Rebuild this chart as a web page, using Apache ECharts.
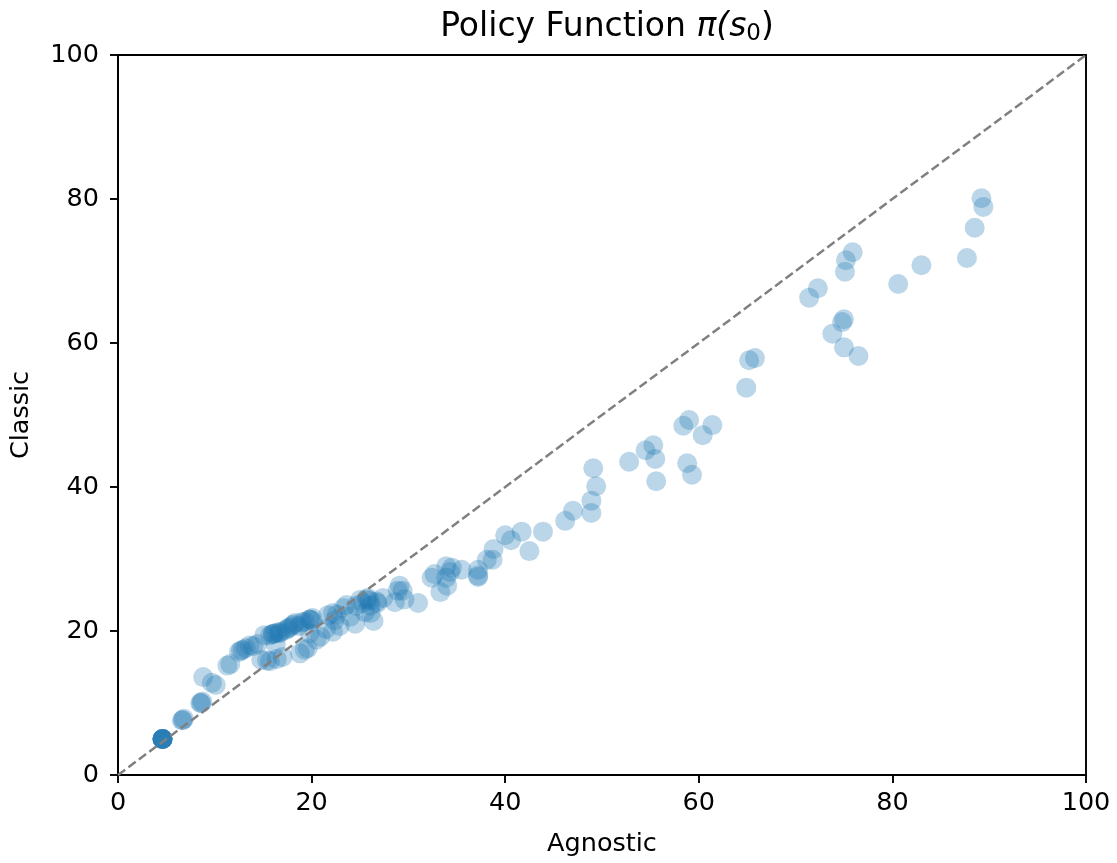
<!DOCTYPE html>
<html>
<head>
<meta charset="utf-8">
<script src="https://cdn.jsdelivr.net/npm/echarts@6/dist/echarts.min.js"></script>
<style>
html,body{margin:0;padding:0;background:#fff;}
#chart{width:1117px;height:863px;}
</style>
</head>
<body>
<div id="chart"></div>
<script>
// Agnostic (x) and Classic (y) values of each state
const agnostic = [
  4.6,4.6,4.6,4.6,4.6,4.6,4.6,4.6,6.6,6.8,8.5,8.7,8.8,9.7,10.1,11.3,11.6,12.5,12.9,13.2,14.0,14.4,
  15.4,15.7,16.4,16.3,15.7,16.0,16.2,16.7,17.3,17.7,18.1,18.3,18.7,19.3,19.8,20.1,
  18.8,19.3,19.6,19.8,20.5,20.9,21.5,22.2,21.7,22.2,22.6,23.3,23.6,22.4,22.9,
  24.6,25.0,25.3,25.8,26.1,26.4,26.1,25.5,24.5,26.8,27.4,28.6,28.9,29.1,29.4,29.6,31.0,
  32.4,32.7,33.3,34.0,33.9,33.9,34.5,35.5,37.2,37.2,38.1,38.7,38.8,40.0,40.6,42.5,41.7,43.9,
  46.2,47.0,48.9,48.9,49.4,49.1,52.8,54.5,55.3,55.5,55.6,58.4,59.0,58.8,59.3,60.4,61.4,
  64.9,65.2,65.8,71.4,72.3,73.8,74.8,75.0,75.0,76.5,75.1,75.2,75.9,80.6,83.0,87.7,88.5,89.2,89.4,
  16.8,17.5,13.6,15.1,20.0,24.0,26.7,14.8,17.0,
  16.0,16.5,18.0,19.0,19.8,12.7,6.7,8.6,25.7,26.0,34.3,37.2
];
const classic = [
  5.0,5.0,5.0,5.0,5.0,5.0,5.0,5.0,7.6,7.8,10.0,10.2,13.6,12.8,12.5,15.2,15.4,17.1,17.4,17.6,17.9,18.2,
  15.9,15.8,16.1,18.2,19.4,19.6,19.7,19.7,20.1,20.5,20.9,21.1,20.7,21.3,21.6,21.8,
  16.9,17.4,17.6,19.7,18.8,19.2,20.3,19.9,22.2,22.5,22.3,23.2,23.6,21.5,20.7,
  23.5,24.3,23.9,24.6,23.5,21.4,22.5,22.6,21.0,23.9,24.6,24.0,25.6,26.3,25.6,24.4,23.9,
  27.4,27.9,25.4,26.3,27.4,29.0,28.8,28.5,28.5,27.5,29.9,29.9,31.4,33.3,32.6,31.1,33.8,33.8,
  35.3,36.7,36.4,38.1,40.1,42.6,43.5,45.1,45.8,43.9,40.8,48.5,49.3,43.3,41.7,47.2,48.6,
  53.8,57.6,57.9,66.3,67.6,61.3,62.9,63.3,59.4,58.2,69.9,71.5,72.6,68.2,70.8,71.8,76.0,80.1,78.9,
  19.9,20.3,18.0,19.4,21.5,22.0,24.1,16.0,16.4,
  19.6,19.8,20.7,21.2,21.6,17.3,7.6,10.0,24.4,24.2,28.2,27.7
];
// reference diagonal y = x
const refLine = [[0,0],[100,100]];

const points = agnostic.map((x,i)=>[x, classic[i]]);

const chart = echarts.init(document.getElementById('chart'), null, {renderer:'canvas'});
const font = 'DejaVu Sans';
function axis(extra, margin){
  return Object.assign({
    type: 'value',
    min: 0, max: 100, interval: 20,
    nameLocation: 'middle',
    nameTextStyle: {fontFamily: font, fontSize: 25.5, color: '#000'},
    axisLine: {show: true, onZero: false, lineStyle: {color: '#000', width: 1.9}},
    axisTick: {show: true, inside: false, length: 8, lineStyle: {color: '#000', width: 1.9}},
    axisLabel: {fontFamily: font, fontSize: 25.5, color: '#000', margin: margin},
    splitLine: {show: false}
  }, extra);
}
chart.setOption({
  animation: false,
  backgroundColor: '#fff',
  title: {
    text: 'Policy Function {i|π(s}{sub|0}{p|)}',
    left: 602, top: 4, textAlign: 'center',
    textStyle: {
      fontFamily: font, fontSize: 33, fontWeight: 'normal', color: '#000',
      rich: {
        i: {fontFamily: font, fontSize: 33, fontStyle: 'italic', color: '#000'},
        p: {fontFamily: font, fontSize: 33, color: '#000'},
        sub: {fontFamily: font, fontSize: 23, color: '#000', padding: [14,0,0,0]}
      }
    }
  },
  grid: {left: 118, right: 31, top: 55, bottom: 88, show: true, borderColor: '#000', borderWidth: 1.9},
  xAxis: axis({name: 'Agnostic', nameGap: 56}, 15),
  yAxis: axis({name: 'Classic', nameGap: 84}, 19),
  series: [
    {
      type: 'scatter',
      data: points,
      symbol: 'circle',
      symbolSize: 20,
      itemStyle: {color: '#1f77b4', opacity: 0.3},
      emphasis: {disabled: true},
      z: 2
    },
    {
      type: 'line',
      data: refLine,
      symbol: 'none',
      lineStyle: {color: '#808080', width: 2.5, type: [9,4]},
      z: 3
    }
  ]
});
</script>
</body>
</html>
